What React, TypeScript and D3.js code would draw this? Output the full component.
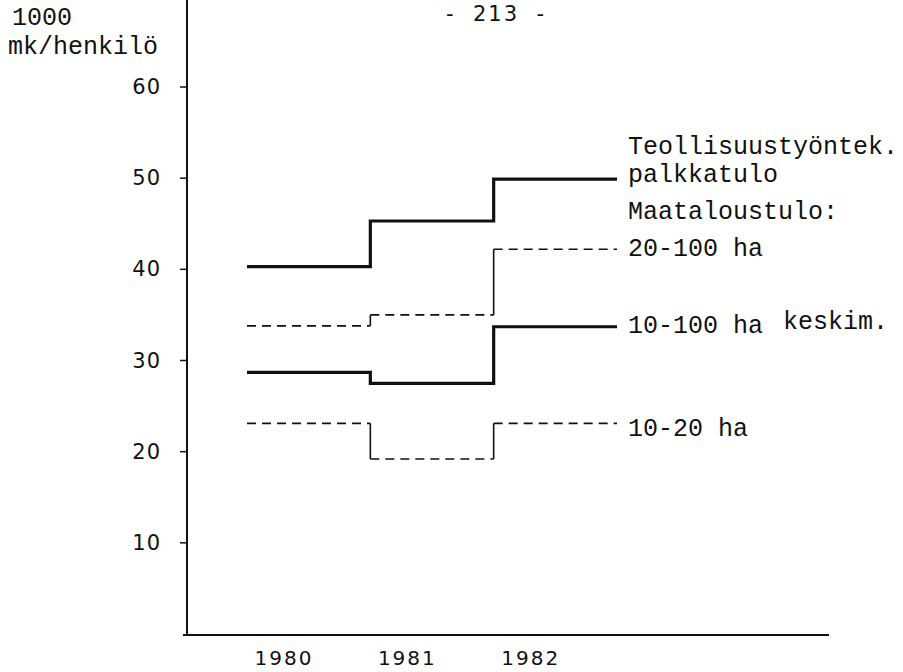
import { useEffect, useRef } from 'react';
import * as d3 from 'd3';

// years of the step segments and tick values
const years = [1980, 1981, 1982];
const yTicks = [10, 20, 30, 40, 50, 60];

// 1000 mk / henkilö
const teollisuus = [40.3, 45.3, 49.9];
const ha20_100 = [33.8, 35.0, 42.2];
const ha10_100 = [28.7, 27.5, 33.7];
const ha10_20 = [23.1, 19.2, 23.1];

const series = [
  { name: 'teollisuus', values: teollisuus, dashed: false, labels: ['Teollisuustyöntek.', 'palkkatulo'] },
  { name: 'ha20_100', values: ha20_100, dashed: true, labels: ['20-100 ha'] },
  { name: 'ha10_100', values: ha10_100, dashed: false, labels: ['10-100 ha'] },
  { name: 'ha10_20', values: ha10_20, dashed: true, labels: ['10-20 ha'] },
];

const MONO = '"Liberation Mono", "DejaVu Sans Mono", monospace';
const SANS = '"DejaVu Sans", sans-serif';

const App = () => {
  const svgRef = useRef(null);

  useEffect(() => {
    const svg = d3.select(svgRef.current);
    svg.selectAll('*').remove();

    const width = 903;
    const height = 672;

    // each year's step runs from year-0.3 to year+0.7
    const xScale = d3.scaleLinear()
      .domain([years[0] - 0.3, years[years.length - 1] + 0.7])
      .range([247, 617]);

    const yScale = d3.scaleLinear()
      .domain([0, 60])
      .range([634, 87]);

    const axisX = 187;
    const g = svg.append('g');

    // Axes
    g.append('line')
      .attr('x1', axisX).attr('x2', axisX)
      .attr('y1', yScale(0) + 1).attr('y2', 0)
      .attr('stroke', '#111').attr('stroke-width', 2);

    g.append('line')
      .attr('x1', 183).attr('x2', 829)
      .attr('y1', yScale(0) + 1).attr('y2', yScale(0) + 1)
      .attr('stroke', '#111').attr('stroke-width', 2);

    yTicks.forEach(t => {
      g.append('line')
        .attr('x1', axisX - 7).attr('x2', axisX)
        .attr('y1', yScale(t)).attr('y2', yScale(t))
        .attr('stroke', '#111').attr('stroke-width', 1.5);
      g.append('text')
        .attr('x', 161).attr('y', yScale(t))
        .attr('text-anchor', 'end')
        .attr('dominant-baseline', 'central')
        .attr('font-family', SANS).attr('font-size', 21)
        .attr('letter-spacing', 1)
        .attr('fill', '#111')
        .text(t);
    });

    years.forEach(yr => {
      g.append('text')
        .attr('x', xScale(yr)).attr('y', 658)
        .attr('text-anchor', 'middle')
        .attr('dominant-baseline', 'central')
        .attr('font-family', SANS).attr('font-size', 20)
        .attr('letter-spacing', 2)
        .attr('fill', '#111')
        .text(yr);
    });

    // Step lines
    series.forEach(s => {
      const pts = [];
      s.values.forEach((v, i) => {
        pts.push([xScale(years[i] - 0.3), yScale(v)]);
        pts.push([xScale(years[i] + 0.7), yScale(v)]);
      });

      if (!s.dashed) {
        g.append('path')
          .datum(pts)
          .attr('d', d3.line())
          .attr('fill', 'none')
          .attr('stroke', '#111')
          .attr('stroke-width', 3.2);
      } else {
        // horizontal pieces dashed, risers solid
        s.values.forEach((v, i) => {
          g.append('line')
            .attr('x1', xScale(years[i] - 0.3)).attr('x2', xScale(years[i] + 0.7))
            .attr('y1', yScale(v)).attr('y2', yScale(v))
            .attr('stroke', '#111').attr('stroke-width', 1.6)
            .attr('stroke-dasharray', '9,6');
          if (i > 0) {
            g.append('line')
              .attr('x1', xScale(years[i] - 0.3)).attr('x2', xScale(years[i] - 0.3))
              .attr('y1', yScale(s.values[i - 1])).attr('y2', yScale(v))
              .attr('stroke', '#111').attr('stroke-width', 1.6);
          }
        });
      }

      // labels at right end
      const last = yScale(s.values[s.values.length - 1]);
      const n = s.labels.length;
      s.labels.forEach((lab, k) => {
        g.append('text')
          .attr('x', 628)
          .attr('y', last + (s.name === 'ha10_20' ? 6 : s.name === 'teollisuus' ? -4 : 0) - (n - 1 - k) * 28)
          .attr('dominant-baseline', 'central')
          .attr('font-family', MONO).attr('font-size', 25)
          .attr('fill', '#111')
          .text(lab);
      });
    });

    // extra texts
    const texts = [
      { t: 'Maataloustulo:', x: 628, y: 212 },
      { t: 'keskim.', x: 783, y: yScale(ha10_100[2]) - 4 },
      { t: '1000', x: 12, y: 18 },
      { t: 'mk/henkilö', x: 8, y: 47 },
    ];
    texts.forEach(d => {
      g.append('text')
        .attr('x', d.x).attr('y', d.y)
        .attr('dominant-baseline', 'central')
        .attr('font-family', MONO).attr('font-size', 25)
        .attr('fill', '#111')
        .text(d.t);
    });

    g.append('text')
      .attr('x', 496).attr('y', 14)
      .attr('text-anchor', 'middle')
      .attr('dominant-baseline', 'central')
      .attr('font-family', SANS).attr('font-size', 21)
      .attr('letter-spacing', 2)
      .attr('fill', '#111')
      .style('white-space', 'pre')
      .text('-  213  -');

    svg.attr('width', width).attr('height', height);
  }, []);

  return (
    <svg
      ref={svgRef}
      width={903}
      height={672}
      style={{ position: 'absolute', left: 0, top: 0, background: '#fff' }}
    ></svg>
  );
};

export default App;
